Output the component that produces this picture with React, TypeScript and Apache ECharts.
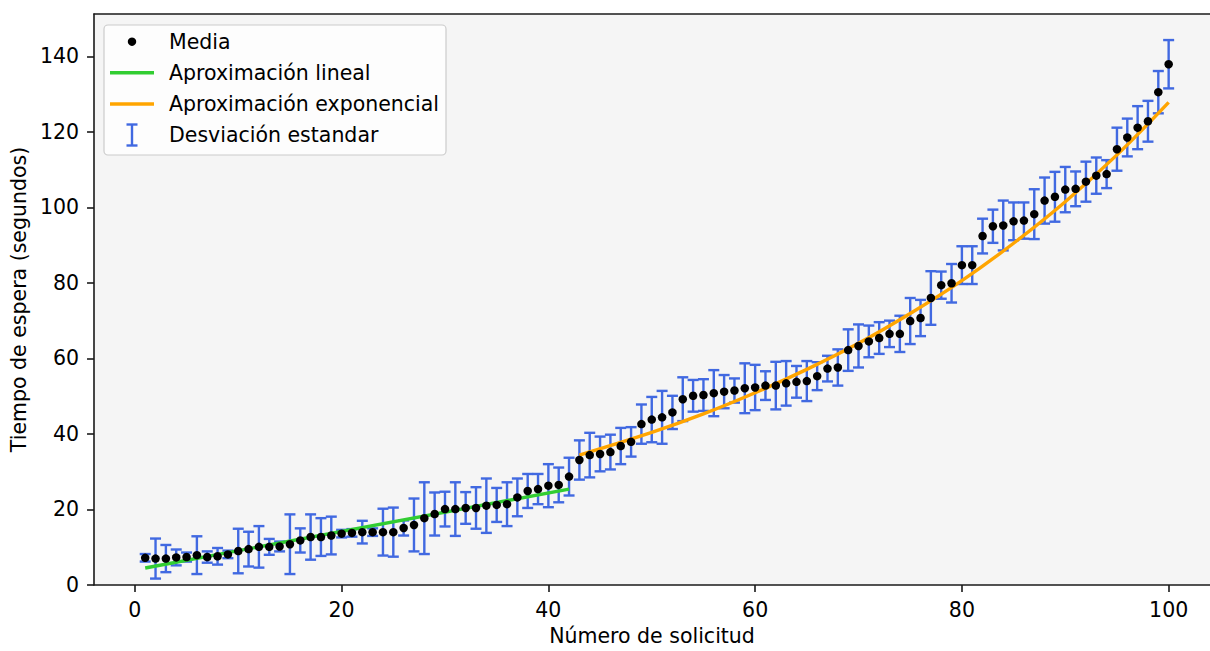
import React, { useEffect, useRef } from "react";
import * as echarts from "echarts";

// ---- data ----
const requestIds: number[] = Array.from({ length: 100 }, (_, k) => k + 1);

const meanValues: number[] = [
  7.2, 7.0, 7.0, 7.3, 7.4, 7.9, 7.4, 7.6, 8.1, 9.0,
  9.5, 10.1, 10.1, 10.2, 10.8, 11.8, 12.7, 12.7, 13.1, 13.6,
  13.8, 14.0, 14.0, 14.0, 14.0, 15.1, 15.9, 17.7, 18.8, 20.1,
  20.1, 20.4, 20.4, 21.0, 21.2, 21.4, 23.2, 24.9, 25.4, 26.3,
  26.5, 28.7, 33.1, 34.4, 34.7, 35.2, 36.8, 37.9, 42.6, 43.8,
  44.4, 45.7, 49.2, 50.1, 50.3, 50.8, 51.2, 51.5, 52.1, 52.3,
  52.8, 52.8, 53.4, 53.8, 54.0, 55.3, 57.3, 57.6, 62.2, 63.3,
  64.5, 65.4, 66.5, 66.5, 69.9, 70.7, 76.0, 79.4, 79.9, 84.7,
  84.7, 92.4, 95.0, 95.2, 96.3, 96.5, 98.2, 101.8, 102.8, 104.7,
  104.9, 106.8, 108.4, 108.8, 115.4, 118.5, 121.1, 122.8, 130.5, 137.9,
];

const stdValues: number[] = [
  1.0, 5.3, 3.6, 2.1, 1.2, 5.0, 1.5, 2.2, 1.0, 5.9,
  4.6, 5.5, 2.1, 1.3, 7.9, 3.2, 6.0, 5.0, 5.0, 1.0,
  1.0, 3.0, 1.0, 6.2, 6.5, 2.0, 7.0, 9.5, 5.7, 4.6,
  7.1, 4.2, 5.5, 7.2, 4.5, 5.8, 5.0, 4.5, 4.0, 5.7,
  4.6, 5.0, 5.2, 5.9, 4.6, 4.6, 4.8, 3.9, 5.2, 6.0,
  7.0, 4.4, 5.8, 4.2, 4.2, 6.1, 4.4, 3.2, 6.6, 6.0,
  3.8, 6.3, 5.9, 4.2, 5.3, 3.7, 3.4, 4.8, 5.5, 5.7,
  4.2, 4.2, 3.5, 4.8, 6.1, 4.8, 7.1, 3.6, 5.1, 5.0,
  5.0, 4.6, 4.4, 6.6, 5.0, 4.8, 6.6, 6.1, 6.6, 6.0,
  4.6, 5.3, 4.8, 3.7, 5.7, 5.0, 5.7, 5.4, 5.6, 6.4,
];

const linearFitX: number[] = [1, 42];
const linearFitY: number[] = [4.5, 25.4];

const expFitX: number[] = [43, 50, 55, 60, 65, 70, 75, 80, 85, 90, 95, 100];
const expFitY: number[] = [34.4, 40.4, 45.3, 50.9, 57.1, 64.0, 71.9, 80.6, 90.5, 101.5, 113.9, 127.8];

const xTickValues: number[] = [0, 20, 40, 60, 80, 100];
const yTickValues: number[] = [0, 20, 40, 60, 80, 100, 120, 140];

const legendLabels: string[] = [
  "Media",
  "Aproximación lineal",
  "Aproximación exponencial",
  "Desviación estandar",
];

const xAxisTitle = "Número de solicitud";
const yAxisTitle = "Tiempo de espera (segundos)";

// ---- styles ----
const FONT = '"DejaVu Sans", "Liberation Sans", sans-serif';
const FS = 20.5;
const BLUE = "#4169e1";
const GREEN = "#32cd32";
const ORANGE = "#ffa500";
const SPINE = "#1a1a1a";

export default function App() {
  const ref = useRef<HTMLDivElement>(null);

  useEffect(() => {
    if (!ref.current) return;
    const chart = echarts.init(ref.current, undefined, { renderer: "svg" });

    const errData = requestIds.map((x, k) => [x, meanValues[k] - stdValues[k], meanValues[k] + stdValues[k]]);
    const meanData = requestIds.map((x, k) => [x, meanValues[k]]);
    const linData = linearFitX.map((x, k) => [x, linearFitY[k]]);
    const expData = expFitX.map((x, k) => [x, expFitY[k]]);

    const capHalf = 5.5;
    const errStyle = { stroke: BLUE, lineWidth: 2.4 };

    const legX = 104;
    const legY = 25;
    const rowY = [41.7, 72.7, 104, 135];
    const handleX1 = 110;
    const handleX2 = 154;
    const textX = 169;

    const legendChildren: any[] = [
      {
        type: "rect",
        shape: { x: legX, y: legY, width: 342, height: 130, r: 4 },
        style: { fill: "rgba(255,255,255,0.8)", stroke: "#cccccc", lineWidth: 1.2 },
      },
      { type: "circle", shape: { cx: 132, cy: rowY[0], r: 4.2 }, style: { fill: "#000" } },
      {
        type: "line",
        shape: { x1: handleX1, y1: rowY[1], x2: handleX2, y2: rowY[1] },
        style: { stroke: GREEN, lineWidth: 3.4 },
      },
      {
        type: "line",
        shape: { x1: handleX1, y1: rowY[2], x2: handleX2, y2: rowY[2] },
        style: { stroke: ORANGE, lineWidth: 3.4 },
      },
      { type: "line", shape: { x1: 132, y1: rowY[3] - 10.5, x2: 132, y2: rowY[3] + 10.5 }, style: errStyle },
      { type: "line", shape: { x1: 132 - capHalf, y1: rowY[3] - 10.5, x2: 132 + capHalf, y2: rowY[3] - 10.5 }, style: errStyle },
      { type: "line", shape: { x1: 132 - capHalf, y1: rowY[3] + 10.5, x2: 132 + capHalf, y2: rowY[3] + 10.5 }, style: errStyle },
    ];
    legendLabels.forEach((t, k) => {
      legendChildren.push({
        type: "text",
        style: {
          text: t,
          x: textX,
          y: rowY[k],
          fill: "#000",
          font: `${FS}px ${FONT}`,
          align: "left",
          verticalAlign: "middle",
        },
      });
    });

    const option: any = {
      animation: false,
      backgroundColor: "#ffffff",
      textStyle: { fontFamily: FONT },
      grid: {
        left: 94,
        top: 14,
        right: 0,
        bottom: 61,
        show: true,
        backgroundColor: "#f5f5f5",
        borderWidth: 0,
      },
      xAxis: [
        {
          type: "value",
          min: -3.95,
          max: 104,
          name: xAxisTitle,
          nameLocation: "middle",
          nameGap: 40,
          nameTextStyle: { fontSize: FS, color: "#000", fontFamily: FONT },
          axisLine: { show: true, onZero: false, lineStyle: { color: SPINE, width: 1.6 } },
          axisTick: { show: true, length: 7, customValues: xTickValues, lineStyle: { color: SPINE, width: 1.6 } },
          axisLabel: { customValues: xTickValues, fontSize: FS, color: "#000", margin: 14, fontFamily: FONT },
          splitLine: { show: false },
        },
        {
          type: "value",
          position: "top",
          min: -3.95,
          max: 104,
          axisLine: { show: true, onZero: false, lineStyle: { color: SPINE, width: 1.6 } },
          axisTick: { show: false },
          axisLabel: { show: false },
          splitLine: { show: false },
        },
      ],
      yAxis: {
        type: "value",
        min: 0,
        max: 151.2,
        name: yAxisTitle,
        nameLocation: "middle",
        nameGap: 62,
        nameRotate: 90,
        nameTextStyle: { fontSize: FS, color: "#000", fontFamily: FONT },
        axisLine: { show: true, onZero: false, lineStyle: { color: SPINE, width: 1.6 } },
        axisTick: { show: true, length: 7, customValues: yTickValues, lineStyle: { color: SPINE, width: 1.6 } },
        axisLabel: { customValues: yTickValues, fontSize: FS, color: "#000", margin: 15, fontFamily: FONT },
        splitLine: { show: false },
      },
      series: [
        {
          type: "custom",
          name: "Desviación estandar",
          z: 1,
          encode: { x: 0, y: [1, 2] },
          data: errData,
          renderItem: (params: any, api: any) => {
            const x = api.value(0);
            const lo = api.value(1);
            const hi = api.value(2);
            const pLo = api.coord([x, lo]);
            const pHi = api.coord([x, hi]);
            return {
              type: "group",
              children: [
                { type: "line", shape: { x1: pLo[0], y1: pLo[1], x2: pHi[0], y2: pHi[1] }, style: errStyle },
                { type: "line", shape: { x1: pLo[0] - capHalf, y1: pLo[1], x2: pLo[0] + capHalf, y2: pLo[1] }, style: errStyle },
                { type: "line", shape: { x1: pHi[0] - capHalf, y1: pHi[1], x2: pHi[0] + capHalf, y2: pHi[1] }, style: errStyle },
              ],
            };
          },
        },
        {
          type: "line",
          name: "Aproximación lineal",
          z: 2,
          data: linData,
          showSymbol: false,
          symbol: "none",
          lineStyle: { color: GREEN, width: 3.4 },
        },
        {
          type: "line",
          name: "Aproximación exponencial",
          z: 2,
          data: expData,
          smooth: 0.4,
          showSymbol: false,
          symbol: "none",
          lineStyle: { color: ORANGE, width: 3.4 },
        },
        {
          type: "scatter",
          name: "Media",
          z: 3,
          data: meanData,
          symbol: "circle",
          symbolSize: 8.5,
          itemStyle: { color: "#000", opacity: 1 },
        },
      ],
      graphic: [{ type: "group", z: 100, children: legendChildren }],
    };

    chart.setOption(option);
    return () => chart.dispose();
  }, []);

  return (
    <div
      ref={ref}
      style={{ position: "absolute", left: 0, top: 0, width: 1210, height: 651 }}
    />
  );
}
